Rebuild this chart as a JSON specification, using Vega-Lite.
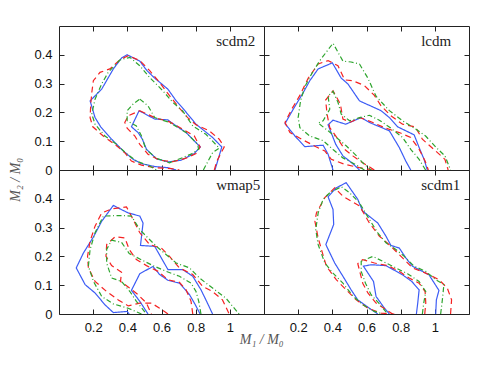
{
"$schema": "https://vega.github.io/schema/vega-lite/v6.json",
"padding": {"left": 9, "top": 25, "right": 5, "bottom": 5},
"background": "white",
"title": {"text": "M₁ / M₀", "orient": "bottom", "anchor": "middle", "dx": 22, "offset": -2, "font": "Liberation Serif", "fontStyle": "italic", "fontWeight": "normal", "fontSize": 14, "color": "#555"},
"datasets": {
"A": [
{"c":"b1","i":0,"x":0.913,"y":0},{"c":"b1","i":1,"x":0.953,"y":0.08},{"c":"b1","i":2,"x":0.899,"y":0.113},{"c":"b1","i":3,"x":0.802,"y":0.159},{"c":"b1","i":4,"x":0.724,"y":0.215},{"c":"b1","i":5,"x":0.686,"y":0.24},{"c":"b1","i":6,"x":0.637,"y":0.281},{"c":"b1","i":7,"x":0.56,"y":0.319},{"c":"b1","i":8,"x":0.515,"y":0.345},{"c":"b1","i":9,"x":0.473,"y":0.378},{"c":"b1","i":10,"x":0.399,"y":0.4},{"c":"b1","i":11,"x":0.366,"y":0.389},{"c":"b1","i":12,"x":0.318,"y":0.351},{"c":"b1","i":13,"x":0.25,"y":0.281},{"c":"b1","i":14,"x":0.182,"y":0.24},{"c":"b1","i":15,"x":0.211,"y":0.182},{"c":"b1","i":16,"x":0.244,"y":0.15},{"c":"b1","i":17,"x":0.308,"y":0.107},{"c":"b1","i":18,"x":0.376,"y":0.066},{"c":"b1","i":19,"x":0.434,"y":0.037},{"c":"b1","i":20,"x":0.483,"y":0.022},{"c":"b1","i":21,"x":0.56,"y":0.012},{"c":"b1","i":22,"x":0.637,"y":0.008},{"c":"b1","i":23,"x":0.686,"y":0},
{"c":"b2","i":0,"x":0.469,"y":0.206},{"c":"b2","i":1,"x":0.512,"y":0.192},{"c":"b2","i":2,"x":0.56,"y":0.177},{"c":"b2","i":3,"x":0.637,"y":0.174},{"c":"b2","i":4,"x":0.657,"y":0.165},{"c":"b2","i":5,"x":0.744,"y":0.13},{"c":"b2","i":6,"x":0.827,"y":0.08},{"c":"b2","i":7,"x":0.792,"y":0.057},{"c":"b2","i":8,"x":0.715,"y":0.034},{"c":"b2","i":9,"x":0.637,"y":0.028},{"c":"b2","i":10,"x":0.57,"y":0.039},{"c":"b2","i":11,"x":0.512,"y":0.072},{"c":"b2","i":12,"x":0.488,"y":0.107},{"c":"b2","i":13,"x":0.463,"y":0.13},{"c":"b2","i":14,"x":0.424,"y":0.15},{"c":"b2","i":15,"x":0.469,"y":0.206},
{"c":"r1","i":0,"x":0.909,"y":0},{"c":"r1","i":1,"x":0.924,"y":0.031},{"c":"r1","i":2,"x":0.967,"y":0.08},{"c":"r1","i":3,"x":0.938,"y":0.107},{"c":"r1","i":4,"x":0.88,"y":0.136},{"c":"r1","i":5,"x":0.802,"y":0.157},{"c":"r1","i":6,"x":0.753,"y":0.182},{"c":"r1","i":7,"x":0.705,"y":0.215},{"c":"r1","i":8,"x":0.647,"y":0.258},{"c":"r1","i":9,"x":0.589,"y":0.304},{"c":"r1","i":10,"x":0.531,"y":0.345},{"c":"r1","i":11,"x":0.473,"y":0.38},{"c":"r1","i":12,"x":0.405,"y":0.397},{"c":"r1","i":13,"x":0.356,"y":0.382},{"c":"r1","i":14,"x":0.298,"y":0.351},{"c":"r1","i":15,"x":0.24,"y":0.339},{"c":"r1","i":16,"x":0.201,"y":0.31},{"c":"r1","i":17,"x":0.192,"y":0.269},{"c":"r1","i":18,"x":0.186,"y":0.229},{"c":"r1","i":19,"x":0.182,"y":0.182},{"c":"r1","i":20,"x":0.198,"y":0.15},{"c":"r1","i":21,"x":0.259,"y":0.118},{"c":"r1","i":22,"x":0.327,"y":0.089},{"c":"r1","i":23,"x":0.385,"y":0.06},{"c":"r1","i":24,"x":0.424,"y":0.031},{"c":"r1","i":25,"x":0.483,"y":0.017},{"c":"r1","i":26,"x":0.56,"y":0.008},{"c":"r1","i":27,"x":0.657,"y":0.005},{"c":"r1","i":28,"x":0.705,"y":0},
{"c":"r2","i":0,"x":0.473,"y":0.206},{"c":"r2","i":1,"x":0.56,"y":0.182},{"c":"r2","i":2,"x":0.647,"y":0.167},{"c":"r2","i":3,"x":0.724,"y":0.142},{"c":"r2","i":4,"x":0.792,"y":0.118},{"c":"r2","i":5,"x":0.826,"y":0.08},{"c":"r2","i":6,"x":0.802,"y":0.057},{"c":"r2","i":7,"x":0.744,"y":0.041},{"c":"r2","i":8,"x":0.666,"y":0.029},{"c":"r2","i":9,"x":0.589,"y":0.034},{"c":"r2","i":10,"x":0.521,"y":0.055},{"c":"r2","i":11,"x":0.473,"y":0.089},{"c":"r2","i":12,"x":0.444,"y":0.118},{"c":"r2","i":13,"x":0.399,"y":0.145},{"c":"r2","i":14,"x":0.385,"y":0.165},{"c":"r2","i":15,"x":0.405,"y":0.188},{"c":"r2","i":16,"x":0.473,"y":0.206},
{"c":"g1","i":0,"x":0.845,"y":0},{"c":"g1","i":1,"x":0.899,"y":0.06},{"c":"g1","i":2,"x":0.938,"y":0.076},{"c":"g1","i":3,"x":0.86,"y":0.124},{"c":"g1","i":4,"x":0.783,"y":0.153},{"c":"g1","i":5,"x":0.724,"y":0.205},{"c":"g1","i":6,"x":0.666,"y":0.235},{"c":"g1","i":7,"x":0.608,"y":0.275},{"c":"g1","i":8,"x":0.531,"y":0.321},{"c":"g1","i":9,"x":0.473,"y":0.362},{"c":"g1","i":10,"x":0.415,"y":0.391},{"c":"g1","i":11,"x":0.356,"y":0.382},{"c":"g1","i":12,"x":0.288,"y":0.339},{"c":"g1","i":13,"x":0.25,"y":0.299},{"c":"g1","i":14,"x":0.211,"y":0.246},{"c":"g1","i":15,"x":0.192,"y":0.194},{"c":"g1","i":16,"x":0.211,"y":0.159},{"c":"g1","i":17,"x":0.269,"y":0.118},{"c":"g1","i":18,"x":0.337,"y":0.089},{"c":"g1","i":19,"x":0.395,"y":0.057},{"c":"g1","i":20,"x":0.453,"y":0.031},{"c":"g1","i":21,"x":0.531,"y":0.014},{"c":"g1","i":22,"x":0.57,"y":0},
{"c":"g2","i":0,"x":0.473,"y":0.246},{"c":"g2","i":1,"x":0.521,"y":0.223},{"c":"g2","i":2,"x":0.56,"y":0.182},{"c":"g2","i":3,"x":0.647,"y":0.165},{"c":"g2","i":4,"x":0.744,"y":0.13},{"c":"g2","i":5,"x":0.812,"y":0.089},{"c":"g2","i":6,"x":0.817,"y":0.072},{"c":"g2","i":7,"x":0.773,"y":0.055},{"c":"g2","i":8,"x":0.715,"y":0.041},{"c":"g2","i":9,"x":0.647,"y":0.025},{"c":"g2","i":10,"x":0.57,"y":0.041},{"c":"g2","i":11,"x":0.508,"y":0.072},{"c":"g2","i":12,"x":0.483,"y":0.118},{"c":"g2","i":13,"x":0.453,"y":0.153},{"c":"g2","i":14,"x":0.399,"y":0.171},{"c":"g2","i":15,"x":0.399,"y":0.206},{"c":"g2","i":16,"x":0.434,"y":0.229},{"c":"g2","i":17,"x":0.473,"y":0.246}
],
"B": [
{"c":"b1","i":0,"x":0.404,"y":0},{"c":"b1","i":1,"x":0.375,"y":0.055},{"c":"b1","i":2,"x":0.346,"y":0.086},{"c":"b1","i":3,"x":0.298,"y":0.084},{"c":"b1","i":4,"x":0.239,"y":0.081},{"c":"b1","i":5,"x":0.181,"y":0.118},{"c":"b1","i":6,"x":0.123,"y":0.161},{"c":"b1","i":7,"x":0.171,"y":0.211},{"c":"b1","i":8,"x":0.23,"y":0.269},{"c":"b1","i":9,"x":0.268,"y":0.31},{"c":"b1","i":10,"x":0.317,"y":0.351},{"c":"b1","i":11,"x":0.4,"y":0.372},{"c":"b1","i":12,"x":0.452,"y":0.319},{"c":"b1","i":13,"x":0.491,"y":0.299},{"c":"b1","i":14,"x":0.559,"y":0.24},{"c":"b1","i":15,"x":0.685,"y":0.206},{"c":"b1","i":16,"x":0.734,"y":0.182},{"c":"b1","i":17,"x":0.782,"y":0.15},{"c":"b1","i":18,"x":0.879,"y":0.122},{"c":"b1","i":19,"x":0.908,"y":0.078},{"c":"b1","i":20,"x":0.937,"y":0.037},{"c":"b1","i":21,"x":0.956,"y":0},
{"c":"b2","i":0,"x":0.559,"y":0},{"c":"b2","i":1,"x":0.52,"y":0.022},{"c":"b2","i":2,"x":0.462,"y":0.049},{"c":"b2","i":3,"x":0.42,"y":0.089},{"c":"b2","i":4,"x":0.375,"y":0.157},{"c":"b2","i":5,"x":0.404,"y":0.173},{"c":"b2","i":6,"x":0.478,"y":0.159},{"c":"b2","i":7,"x":0.569,"y":0.182},{"c":"b2","i":8,"x":0.617,"y":0.165},{"c":"b2","i":9,"x":0.734,"y":0.136},{"c":"b2","i":10,"x":0.792,"y":0.078},{"c":"b2","i":11,"x":0.83,"y":0.031},{"c":"b2","i":12,"x":0.859,"y":0},
{"c":"r1","i":0,"x":0.637,"y":0},{"c":"r1","i":1,"x":0.559,"y":0.008},{"c":"r1","i":2,"x":0.472,"y":0.02},{"c":"r1","i":3,"x":0.394,"y":0.037},{"c":"r1","i":4,"x":0.356,"y":0.066},{"c":"r1","i":5,"x":0.307,"y":0.08},{"c":"r1","i":6,"x":0.22,"y":0.107},{"c":"r1","i":7,"x":0.152,"y":0.13},{"c":"r1","i":8,"x":0.123,"y":0.165},{"c":"r1","i":9,"x":0.162,"y":0.211},{"c":"r1","i":10,"x":0.21,"y":0.259},{"c":"r1","i":11,"x":0.259,"y":0.319},{"c":"r1","i":12,"x":0.317,"y":0.368},{"c":"r1","i":13,"x":0.375,"y":0.38},{"c":"r1","i":14,"x":0.433,"y":0.362},{"c":"r1","i":15,"x":0.472,"y":0.313},{"c":"r1","i":16,"x":0.52,"y":0.31},{"c":"r1","i":17,"x":0.588,"y":0.293},{"c":"r1","i":18,"x":0.646,"y":0.259},{"c":"r1","i":19,"x":0.685,"y":0.223},{"c":"r1","i":20,"x":0.743,"y":0.188},{"c":"r1","i":21,"x":0.811,"y":0.159},{"c":"r1","i":22,"x":0.885,"y":0.15},{"c":"r1","i":23,"x":0.927,"y":0.107},{"c":"r1","i":24,"x":1.005,"y":0.066},{"c":"r1","i":25,"x":1.059,"y":0.037},{"c":"r1","i":26,"x":1.078,"y":0},
{"c":"r2","i":0,"x":0.646,"y":0},{"c":"r2","i":1,"x":0.578,"y":0.025},{"c":"r2","i":2,"x":0.52,"y":0.049},{"c":"r2","i":3,"x":0.472,"y":0.072},{"c":"r2","i":4,"x":0.433,"y":0.107},{"c":"r2","i":5,"x":0.385,"y":0.147},{"c":"r2","i":6,"x":0.369,"y":0.194},{"c":"r2","i":7,"x":0.361,"y":0.243},{"c":"r2","i":8,"x":0.404,"y":0.275},{"c":"r2","i":9,"x":0.447,"y":0.229},{"c":"r2","i":10,"x":0.462,"y":0.177},{"c":"r2","i":11,"x":0.505,"y":0.166},{"c":"r2","i":12,"x":0.563,"y":0.182},{"c":"r2","i":13,"x":0.637,"y":0.165},{"c":"r2","i":14,"x":0.714,"y":0.145},{"c":"r2","i":15,"x":0.792,"y":0.13},{"c":"r2","i":16,"x":0.859,"y":0.113},{"c":"r2","i":17,"x":0.908,"y":0.072},{"c":"r2","i":18,"x":0.943,"y":0.031},{"c":"r2","i":19,"x":0.962,"y":0},
{"c":"g1","i":0,"x":0.588,"y":0},{"c":"g1","i":1,"x":0.53,"y":0.021},{"c":"g1","i":2,"x":0.462,"y":0.042},{"c":"g1","i":3,"x":0.404,"y":0.071},{"c":"g1","i":4,"x":0.346,"y":0.102},{"c":"g1","i":5,"x":0.268,"y":0.118},{"c":"g1","i":6,"x":0.21,"y":0.147},{"c":"g1","i":7,"x":0.2,"y":0.182},{"c":"g1","i":8,"x":0.214,"y":0.24},{"c":"g1","i":9,"x":0.239,"y":0.289},{"c":"g1","i":10,"x":0.278,"y":0.333},{"c":"g1","i":11,"x":0.327,"y":0.38},{"c":"g1","i":12,"x":0.404,"y":0.44},{"c":"g1","i":13,"x":0.462,"y":0.378},{"c":"g1","i":14,"x":0.51,"y":0.375},{"c":"g1","i":15,"x":0.559,"y":0.368},{"c":"g1","i":16,"x":0.608,"y":0.319},{"c":"g1","i":17,"x":0.656,"y":0.256},{"c":"g1","i":18,"x":0.734,"y":0.206},{"c":"g1","i":19,"x":0.811,"y":0.171},{"c":"g1","i":20,"x":0.888,"y":0.142},{"c":"g1","i":21,"x":0.946,"y":0.118},{"c":"g1","i":22,"x":1.005,"y":0.08},{"c":"g1","i":23,"x":1.059,"y":0.049},{"c":"g1","i":24,"x":1.092,"y":0},
{"c":"g2","i":0,"x":0.946,"y":0},{"c":"g2","i":1,"x":0.908,"y":0.037},{"c":"g2","i":2,"x":0.859,"y":0.072},{"c":"g2","i":3,"x":0.811,"y":0.113},{"c":"g2","i":4,"x":0.743,"y":0.145},{"c":"g2","i":5,"x":0.675,"y":0.173},{"c":"g2","i":6,"x":0.617,"y":0.19},{"c":"g2","i":7,"x":0.559,"y":0.182},{"c":"g2","i":8,"x":0.501,"y":0.171},{"c":"g2","i":9,"x":0.452,"y":0.194},{"c":"g2","i":10,"x":0.433,"y":0.235},{"c":"g2","i":11,"x":0.404,"y":0.273},{"c":"g2","i":12,"x":0.375,"y":0.257},{"c":"g2","i":13,"x":0.385,"y":0.211},{"c":"g2","i":14,"x":0.346,"y":0.171},{"c":"g2","i":15,"x":0.317,"y":0.163},{"c":"g2","i":16,"x":0.414,"y":0.118},{"c":"g2","i":17,"x":0.481,"y":0.084},{"c":"g2","i":18,"x":0.54,"y":0.05},{"c":"g2","i":19,"x":0.578,"y":0.025},{"c":"g2","i":20,"x":0.627,"y":0}
],
"C": [
{"c":"b1","i":0,"x":0.899,"y":0},{"c":"b1","i":1,"x":0.86,"y":0.049},{"c":"b1","i":2,"x":0.831,"y":0.084},{"c":"b1","i":3,"x":0.783,"y":0.131},{"c":"b1","i":4,"x":0.725,"y":0.154},{"c":"b1","i":5,"x":0.638,"y":0.154},{"c":"b1","i":6,"x":0.56,"y":0.235},{"c":"b1","i":7,"x":0.477,"y":0.238},{"c":"b1","i":8,"x":0.492,"y":0.316},{"c":"b1","i":9,"x":0.473,"y":0.34},{"c":"b1","i":10,"x":0.405,"y":0.351},{"c":"b1","i":11,"x":0.357,"y":0.365},{"c":"b1","i":12,"x":0.318,"y":0.377},{"c":"b1","i":13,"x":0.25,"y":0.322},{"c":"b1","i":14,"x":0.202,"y":0.268},{"c":"b1","i":15,"x":0.143,"y":0.212},{"c":"b1","i":16,"x":0.101,"y":0.16},{"c":"b1","i":17,"x":0.153,"y":0.102},{"c":"b1","i":18,"x":0.211,"y":0.073},{"c":"b1","i":19,"x":0.269,"y":0.032},{"c":"b1","i":20,"x":0.318,"y":0.005},{"c":"b1","i":21,"x":0.399,"y":0.009},{"c":"b1","i":22,"x":0.411,"y":0},
{"c":"b2","i":0,"x":0.521,"y":0},{"c":"b2","i":1,"x":0.473,"y":0.044},{"c":"b2","i":2,"x":0.424,"y":0.082},{"c":"b2","i":3,"x":0.473,"y":0.14},{"c":"b2","i":4,"x":0.55,"y":0.165},{"c":"b2","i":5,"x":0.589,"y":0.137},{"c":"b2","i":6,"x":0.638,"y":0.117},{"c":"b2","i":7,"x":0.705,"y":0.107},{"c":"b2","i":8,"x":0.764,"y":0.067},{"c":"b2","i":9,"x":0.798,"y":0.032},{"c":"b2","i":10,"x":0.826,"y":0},
{"c":"r1","i":0,"x":0.638,"y":0},{"c":"r1","i":1,"x":0.589,"y":0.02},{"c":"r1","i":2,"x":0.541,"y":0.038},{"c":"r1","i":3,"x":0.473,"y":0.038},{"c":"r1","i":4,"x":0.405,"y":0.028},{"c":"r1","i":5,"x":0.347,"y":0.049},{"c":"r1","i":6,"x":0.279,"y":0.078},{"c":"r1","i":7,"x":0.211,"y":0.113},{"c":"r1","i":8,"x":0.172,"y":0.16},{"c":"r1","i":9,"x":0.167,"y":0.2},{"c":"r1","i":10,"x":0.182,"y":0.253},{"c":"r1","i":11,"x":0.211,"y":0.305},{"c":"r1","i":12,"x":0.25,"y":0.351},{"c":"r1","i":13,"x":0.308,"y":0.365},{"c":"r1","i":14,"x":0.395,"y":0.372},{"c":"r1","i":15,"x":0.434,"y":0.328},{"c":"r1","i":16,"x":0.473,"y":0.282},{"c":"r1","i":17,"x":0.531,"y":0.241},{"c":"r1","i":18,"x":0.599,"y":0.229},{"c":"r1","i":19,"x":0.647,"y":0.2},{"c":"r1","i":20,"x":0.705,"y":0.16},{"c":"r1","i":21,"x":0.783,"y":0.137},{"c":"r1","i":22,"x":0.841,"y":0.096},{"c":"r1","i":23,"x":0.899,"y":0.078},{"c":"r1","i":24,"x":0.957,"y":0.049},{"c":"r1","i":25,"x":0.996,"y":0},
{"c":"r2","i":0,"x":0.783,"y":0},{"c":"r2","i":1,"x":0.773,"y":0.044},{"c":"r2","i":2,"x":0.744,"y":0.084},{"c":"r2","i":3,"x":0.705,"y":0.11},{"c":"r2","i":4,"x":0.638,"y":0.119},{"c":"r2","i":5,"x":0.58,"y":0.148},{"c":"r2","i":6,"x":0.512,"y":0.168},{"c":"r2","i":7,"x":0.453,"y":0.189},{"c":"r2","i":8,"x":0.411,"y":0.224},{"c":"r2","i":9,"x":0.386,"y":0.264},{"c":"r2","i":10,"x":0.328,"y":0.268},{"c":"r2","i":11,"x":0.279,"y":0.241},{"c":"r2","i":12,"x":0.275,"y":0.2},{"c":"r2","i":13,"x":0.308,"y":0.168},{"c":"r2","i":14,"x":0.366,"y":0.145},{"c":"r2","i":15,"x":0.36,"y":0.113},{"c":"r2","i":16,"x":0.405,"y":0.094},{"c":"r2","i":17,"x":0.463,"y":0.067},{"c":"r2","i":18,"x":0.512,"y":0.038},{"c":"r2","i":19,"x":0.541,"y":0},
{"c":"g1","i":0,"x":0.483,"y":0},{"c":"g1","i":1,"x":0.405,"y":0.02},{"c":"g1","i":2,"x":0.318,"y":0.035},{"c":"g1","i":3,"x":0.25,"y":0.061},{"c":"g1","i":4,"x":0.202,"y":0.113},{"c":"g1","i":5,"x":0.172,"y":0.166},{"c":"g1","i":6,"x":0.182,"y":0.224},{"c":"g1","i":7,"x":0.211,"y":0.282},{"c":"g1","i":8,"x":0.26,"y":0.34},{"c":"g1","i":9,"x":0.357,"y":0.342},{"c":"g1","i":10,"x":0.424,"y":0.34},{"c":"g1","i":11,"x":0.473,"y":0.293},{"c":"g1","i":12,"x":0.521,"y":0.264},{"c":"g1","i":13,"x":0.57,"y":0.235},{"c":"g1","i":14,"x":0.628,"y":0.206},{"c":"g1","i":15,"x":0.686,"y":0.177},{"c":"g1","i":16,"x":0.764,"y":0.16},{"c":"g1","i":17,"x":0.822,"y":0.125},{"c":"g1","i":18,"x":0.899,"y":0.09},{"c":"g1","i":19,"x":0.977,"y":0.055},{"c":"g1","i":20,"x":1.054,"y":0},
{"c":"g2","i":0,"x":0.831,"y":0},{"c":"g2","i":1,"x":0.818,"y":0.044},{"c":"g2","i":2,"x":0.802,"y":0.078},{"c":"g2","i":3,"x":0.773,"y":0.107},{"c":"g2","i":4,"x":0.705,"y":0.131},{"c":"g2","i":5,"x":0.628,"y":0.148},{"c":"g2","i":6,"x":0.55,"y":0.168},{"c":"g2","i":7,"x":0.473,"y":0.191},{"c":"g2","i":8,"x":0.411,"y":0.21},{"c":"g2","i":9,"x":0.366,"y":0.249},{"c":"g2","i":10,"x":0.308,"y":0.256},{"c":"g2","i":11,"x":0.279,"y":0.224},{"c":"g2","i":12,"x":0.279,"y":0.177},{"c":"g2","i":13,"x":0.308,"y":0.125},{"c":"g2","i":14,"x":0.366,"y":0.113},{"c":"g2","i":15,"x":0.415,"y":0.078},{"c":"g2","i":16,"x":0.453,"y":0.044},{"c":"g2","i":17,"x":0.512,"y":0}
],
"D": [
{"c":"b1","i":0,"x":1.005,"y":0},{"c":"b1","i":1,"x":1.009,"y":0.049},{"c":"b1","i":2,"x":1.024,"y":0.082},{"c":"b1","i":3,"x":0.966,"y":0.136},{"c":"b1","i":4,"x":0.869,"y":0.166},{"c":"b1","i":5,"x":0.83,"y":0.195},{"c":"b1","i":6,"x":0.792,"y":0.229},{"c":"b1","i":7,"x":0.743,"y":0.238},{"c":"b1","i":8,"x":0.714,"y":0.27},{"c":"b1","i":9,"x":0.666,"y":0.316},{"c":"b1","i":10,"x":0.578,"y":0.357},{"c":"b1","i":11,"x":0.549,"y":0.398},{"c":"b1","i":12,"x":0.481,"y":0.456},{"c":"b1","i":13,"x":0.423,"y":0.438},{"c":"b1","i":14,"x":0.375,"y":0.407},{"c":"b1","i":15,"x":0.404,"y":0.363},{"c":"b1","i":16,"x":0.408,"y":0.311},{"c":"b1","i":17,"x":0.362,"y":0.241},{"c":"b1","i":18,"x":0.414,"y":0.177},{"c":"b1","i":19,"x":0.462,"y":0.131},{"c":"b1","i":20,"x":0.51,"y":0.084},{"c":"b1","i":21,"x":0.549,"y":0.049},{"c":"b1","i":22,"x":0.617,"y":0.02},{"c":"b1","i":23,"x":0.666,"y":0},
{"c":"b2","i":0,"x":0.734,"y":0},{"c":"b2","i":1,"x":0.705,"y":0.02},{"c":"b2","i":2,"x":0.656,"y":0.061},{"c":"b2","i":3,"x":0.641,"y":0.113},{"c":"b2","i":4,"x":0.582,"y":0.166},{"c":"b2","i":5,"x":0.627,"y":0.171},{"c":"b2","i":6,"x":0.714,"y":0.168},{"c":"b2","i":7,"x":0.811,"y":0.136},{"c":"b2","i":8,"x":0.865,"y":0.113},{"c":"b2","i":9,"x":0.908,"y":0.084},{"c":"b2","i":10,"x":0.9,"y":0.038},{"c":"b2","i":11,"x":0.892,"y":0},
{"c":"r1","i":0,"x":1.092,"y":0},{"c":"r1","i":1,"x":1.098,"y":0.049},{"c":"r1","i":2,"x":1.073,"y":0.09},{"c":"r1","i":3,"x":1.024,"y":0.119},{"c":"r1","i":4,"x":0.947,"y":0.142},{"c":"r1","i":5,"x":0.869,"y":0.16},{"c":"r1","i":6,"x":0.811,"y":0.195},{"c":"r1","i":7,"x":0.743,"y":0.235},{"c":"r1","i":8,"x":0.676,"y":0.27},{"c":"r1","i":9,"x":0.617,"y":0.316},{"c":"r1","i":10,"x":0.559,"y":0.375},{"c":"r1","i":11,"x":0.51,"y":0.392},{"c":"r1","i":12,"x":0.462,"y":0.409},{"c":"r1","i":13,"x":0.414,"y":0.438},{"c":"r1","i":14,"x":0.356,"y":0.404},{"c":"r1","i":15,"x":0.307,"y":0.351},{"c":"r1","i":16,"x":0.298,"y":0.322},{"c":"r1","i":17,"x":0.317,"y":0.264},{"c":"r1","i":18,"x":0.342,"y":0.212},{"c":"r1","i":19,"x":0.365,"y":0.166},{"c":"r1","i":20,"x":0.423,"y":0.119},{"c":"r1","i":21,"x":0.481,"y":0.084},{"c":"r1","i":22,"x":0.54,"y":0.049},{"c":"r1","i":23,"x":0.608,"y":0.02},{"c":"r1","i":24,"x":0.685,"y":0.003},{"c":"r1","i":25,"x":0.763,"y":0},
{"c":"r2","i":0,"x":0.941,"y":0},{"c":"r2","i":1,"x":0.947,"y":0.038},{"c":"r2","i":2,"x":0.943,"y":0.078},{"c":"r2","i":3,"x":0.908,"y":0.107},{"c":"r2","i":4,"x":0.85,"y":0.125},{"c":"r2","i":5,"x":0.792,"y":0.148},{"c":"r2","i":6,"x":0.724,"y":0.168},{"c":"r2","i":7,"x":0.647,"y":0.177},{"c":"r2","i":8,"x":0.578,"y":0.189},{"c":"r2","i":9,"x":0.549,"y":0.175},{"c":"r2","i":10,"x":0.563,"y":0.142},{"c":"r2","i":11,"x":0.578,"y":0.107},{"c":"r2","i":12,"x":0.608,"y":0.073},{"c":"r2","i":13,"x":0.656,"y":0.038},{"c":"r2","i":14,"x":0.714,"y":0.015},{"c":"r2","i":15,"x":0.753,"y":0},
{"c":"g1","i":0,"x":1.034,"y":0},{"c":"g1","i":1,"x":1.044,"y":0.049},{"c":"g1","i":2,"x":1.053,"y":0.102},{"c":"g1","i":3,"x":1.005,"y":0.119},{"c":"g1","i":4,"x":0.947,"y":0.148},{"c":"g1","i":5,"x":0.879,"y":0.166},{"c":"g1","i":6,"x":0.821,"y":0.2},{"c":"g1","i":7,"x":0.772,"y":0.224},{"c":"g1","i":8,"x":0.714,"y":0.247},{"c":"g1","i":9,"x":0.666,"y":0.282},{"c":"g1","i":10,"x":0.617,"y":0.328},{"c":"g1","i":11,"x":0.559,"y":0.386},{"c":"g1","i":12,"x":0.501,"y":0.421},{"c":"g1","i":13,"x":0.452,"y":0.442},{"c":"g1","i":14,"x":0.385,"y":0.421},{"c":"g1","i":15,"x":0.346,"y":0.398},{"c":"g1","i":16,"x":0.317,"y":0.351},{"c":"g1","i":17,"x":0.303,"y":0.293},{"c":"g1","i":18,"x":0.317,"y":0.241},{"c":"g1","i":19,"x":0.356,"y":0.177},{"c":"g1","i":20,"x":0.404,"y":0.142},{"c":"g1","i":21,"x":0.462,"y":0.107},{"c":"g1","i":22,"x":0.52,"y":0.063},{"c":"g1","i":23,"x":0.578,"y":0.032},{"c":"g1","i":24,"x":0.647,"y":0.009},{"c":"g1","i":25,"x":0.695,"y":0},
{"c":"g2","i":0,"x":0.927,"y":0},{"c":"g2","i":1,"x":0.935,"y":0.038},{"c":"g2","i":2,"x":0.947,"y":0.078},{"c":"g2","i":3,"x":0.908,"y":0.113},{"c":"g2","i":4,"x":0.84,"y":0.14},{"c":"g2","i":5,"x":0.772,"y":0.16},{"c":"g2","i":6,"x":0.695,"y":0.183},{"c":"g2","i":7,"x":0.637,"y":0.2},{"c":"g2","i":8,"x":0.569,"y":0.183},{"c":"g2","i":9,"x":0.569,"y":0.148},{"c":"g2","i":10,"x":0.594,"y":0.107},{"c":"g2","i":11,"x":0.627,"y":0.067},{"c":"g2","i":12,"x":0.676,"y":0.035},{"c":"g2","i":13,"x":0.724,"y":0}
]
},
"hconcat": [
{"title": {"text": "M₂ / M₀", "orient": "left", "anchor": "middle", "offset": 10, "font": "Liberation Serif", "fontStyle": "italic", "fontWeight": "normal", "fontSize": 14, "color": "#555"},
 "columns": 2,
 "bounds": "flush",
 "spacing": 0,
 "concat": [
{"width": 205, "height": 144,
 "layer": [
  {"data": {"name": "A"},
   "mark": {"type": "line", "strokeWidth": 1.2, "clip": true},
   "encoding": {
    "x": {"field": "x", "type": "quantitative", "scale": {"domain": [0, 1.2], "nice": false, "zero": false}, "axis": {"orient": "bottom", "values": [0.2, 0.4, 0.6, 0.8, 1], "labels": false, "title": null}},
    "y": {"field": "y", "type": "quantitative", "scale": {"domain": [0, 0.5], "nice": false}, "axis": {"orient": "left", "values": [0, 0.1, 0.2, 0.3, 0.4], "format": "~g", "title": null}},
    "color": {"field": "c", "type": "nominal", "scale": {"domain": ["b1","b2","r1","r2","g1","g2"], "range": ["#3c5cf5","#3c5cf5","#f52222","#f52222","#2ea52e","#2ea52e"]}, "legend": null},
    "strokeDash": {"field": "c", "type": "nominal", "scale": {"domain": ["b1","b2","r1","r2","g1","g2"], "range": [[1,0],[1,0],[6,4],[6,4],[5,2.5,1,2.5],[5,2.5,1,2.5]]}, "legend": null},
    "order": {"field": "i", "type": "quantitative"}
   }},
  {"data": {"values": [{"t": "scdm2"}]},
   "mark": {"type": "text", "align": "left", "baseline": "alphabetic", "font": "Liberation Serif", "fontSize": 15, "color": "#222"},
   "encoding": {
    "x": {"datum": 0.92, "type": "quantitative", "scale": {"domain": [0, 1.2], "nice": false, "zero": false}, "axis": {"orient": "top", "values": [0.2, 0.4, 0.6, 0.8, 1], "labels": false, "title": null}},
    "y": {"datum": 0.43, "type": "quantitative", "scale": {"domain": [0, 0.5], "nice": false}, "axis": {"orient": "right", "values": [0, 0.1, 0.2, 0.3, 0.4], "labels": false, "title": null}},
    "text": {"field": "t"}
   }}
 ],
 "resolve": {"axis": {"x": "independent", "y": "independent"}}
},
{"width": 205, "height": 144,
 "layer": [
  {"data": {"name": "B"},
   "mark": {"type": "line", "strokeWidth": 1.2, "clip": true},
   "encoding": {
    "x": {"field": "x", "type": "quantitative", "scale": {"domain": [0, 1.2], "nice": false, "zero": false}, "axis": {"orient": "bottom", "values": [0.2, 0.4, 0.6, 0.8, 1], "labels": false, "title": null}},
    "y": {"field": "y", "type": "quantitative", "scale": {"domain": [0, 0.5], "nice": false}, "axis": {"orient": "left", "values": [0, 0.1, 0.2, 0.3, 0.4], "labels": false, "title": null}},
    "color": {"field": "c", "type": "nominal", "scale": {"domain": ["b1","b2","r1","r2","g1","g2"], "range": ["#3c5cf5","#3c5cf5","#f52222","#f52222","#2ea52e","#2ea52e"]}, "legend": null},
    "strokeDash": {"field": "c", "type": "nominal", "scale": {"domain": ["b1","b2","r1","r2","g1","g2"], "range": [[1,0],[1,0],[6,4],[6,4],[5,2.5,1,2.5],[5,2.5,1,2.5]]}, "legend": null},
    "order": {"field": "i", "type": "quantitative"}
   }},
  {"data": {"values": [{"t": "lcdm"}]},
   "mark": {"type": "text", "align": "left", "baseline": "alphabetic", "font": "Liberation Serif", "fontSize": 15, "color": "#222"},
   "encoding": {
    "x": {"datum": 0.92, "type": "quantitative", "scale": {"domain": [0, 1.2], "nice": false, "zero": false}, "axis": {"orient": "top", "values": [0.2, 0.4, 0.6, 0.8, 1], "labels": false, "title": null}},
    "y": {"datum": 0.43, "type": "quantitative", "scale": {"domain": [0, 0.5], "nice": false}, "axis": {"orient": "right", "values": [0, 0.1, 0.2, 0.3, 0.4], "labels": false, "title": null}},
    "text": {"field": "t"}
   }}
 ],
 "resolve": {"axis": {"x": "independent", "y": "independent"}}
},
{"width": 205, "height": 144,
 "layer": [
  {"data": {"name": "C"},
   "mark": {"type": "line", "strokeWidth": 1.2, "clip": true},
   "encoding": {
    "x": {"field": "x", "type": "quantitative", "scale": {"domain": [0, 1.2], "nice": false, "zero": false}, "axis": {"orient": "bottom", "values": [0.2, 0.4, 0.6, 0.8, 1], "format": "~g", "title": null}},
    "y": {"field": "y", "type": "quantitative", "scale": {"domain": [0, 0.5], "nice": false}, "axis": {"orient": "left", "values": [0, 0.1, 0.2, 0.3, 0.4], "format": "~g", "title": null}},
    "color": {"field": "c", "type": "nominal", "scale": {"domain": ["b1","b2","r1","r2","g1","g2"], "range": ["#3c5cf5","#3c5cf5","#f52222","#f52222","#2ea52e","#2ea52e"]}, "legend": null},
    "strokeDash": {"field": "c", "type": "nominal", "scale": {"domain": ["b1","b2","r1","r2","g1","g2"], "range": [[1,0],[1,0],[6,4],[6,4],[5,2.5,1,2.5],[5,2.5,1,2.5]]}, "legend": null},
    "order": {"field": "i", "type": "quantitative"}
   }},
  {"data": {"values": [{"t": "wmap5"}]},
   "mark": {"type": "text", "align": "left", "baseline": "alphabetic", "font": "Liberation Serif", "fontSize": 15, "color": "#222"},
   "encoding": {
    "x": {"datum": 0.92, "type": "quantitative", "scale": {"domain": [0, 1.2], "nice": false, "zero": false}, "axis": {"orient": "top", "values": [0.2, 0.4, 0.6, 0.8, 1], "labels": false, "title": null}},
    "y": {"datum": 0.43, "type": "quantitative", "scale": {"domain": [0, 0.5], "nice": false}, "axis": {"orient": "right", "values": [0, 0.1, 0.2, 0.3, 0.4], "labels": false, "title": null}},
    "text": {"field": "t"}
   }}
 ],
 "resolve": {"axis": {"x": "independent", "y": "independent"}}
},
{"width": 205, "height": 144,
 "layer": [
  {"data": {"name": "D"},
   "mark": {"type": "line", "strokeWidth": 1.2, "clip": true},
   "encoding": {
    "x": {"field": "x", "type": "quantitative", "scale": {"domain": [0, 1.2], "nice": false, "zero": false}, "axis": {"orient": "bottom", "values": [0.2, 0.4, 0.6, 0.8, 1], "format": "~g", "title": null}},
    "y": {"field": "y", "type": "quantitative", "scale": {"domain": [0, 0.5], "nice": false}, "axis": {"orient": "left", "values": [0, 0.1, 0.2, 0.3, 0.4], "labels": false, "title": null}},
    "color": {"field": "c", "type": "nominal", "scale": {"domain": ["b1","b2","r1","r2","g1","g2"], "range": ["#3c5cf5","#3c5cf5","#f52222","#f52222","#2ea52e","#2ea52e"]}, "legend": null},
    "strokeDash": {"field": "c", "type": "nominal", "scale": {"domain": ["b1","b2","r1","r2","g1","g2"], "range": [[1,0],[1,0],[6,4],[6,4],[5,2.5,1,2.5],[5,2.5,1,2.5]]}, "legend": null},
    "order": {"field": "i", "type": "quantitative"}
   }},
  {"data": {"values": [{"t": "scdm1"}]},
   "mark": {"type": "text", "align": "left", "baseline": "alphabetic", "font": "Liberation Serif", "fontSize": 15, "color": "#222"},
   "encoding": {
    "x": {"datum": 0.92, "type": "quantitative", "scale": {"domain": [0, 1.2], "nice": false, "zero": false}, "axis": {"orient": "top", "values": [0.2, 0.4, 0.6, 0.8, 1], "labels": false, "title": null}},
    "y": {"datum": 0.43, "type": "quantitative", "scale": {"domain": [0, 0.5], "nice": false}, "axis": {"orient": "right", "values": [0, 0.1, 0.2, 0.3, 0.4], "labels": false, "title": null}},
    "text": {"field": "t"}
   }}
 ],
 "resolve": {"axis": {"x": "independent", "y": "independent"}}
}
]}
],
"spacing": 0,
"config": {
 "view": {"stroke": "#222", "strokeWidth": 1},
 "axis": {"domain": false, "grid": false, "ticks": true, "tickSize": -5, "tickColor": "#222", "tickWidth": 1, "labelFont": "Liberation Sans", "labelFontSize": 13, "labelColor": "#111", "labelPadding": 12, "minExtent": 0}
}
}
